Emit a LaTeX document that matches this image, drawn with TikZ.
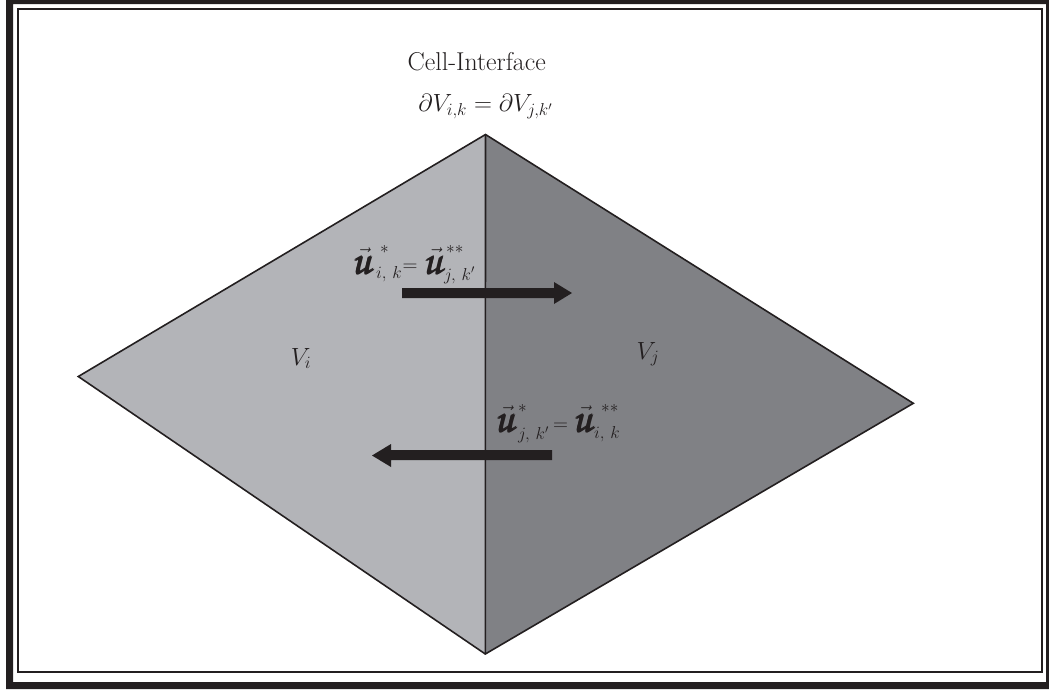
\documentclass[tikz,border=0pt]{standalone}
\usepackage{amsmath}
\DeclareMathAlphabet{\mathpzc}{OT1}{pzc}{m}{it}
\newcommand{\ubig}{\fontsize{43}{43}\selectfont$\vec{\pmb{\mathpzc{u}}}$}
\newcommand{\scr}[1]{\fontsize{17}{17}\selectfont$#1$}
\newcommand{\eqm}{\fontsize{22}{22}\selectfont$=$}
\definecolor{framecol}{HTML}{231F20}
\definecolor{leftgray}{HTML}{B3B4B8}
\definecolor{rightgray}{HTML}{808185}
\tikzset{
  edge/.style={draw=framecol, line width=1.6pt, line join=miter},
  bigarrow/.style={fill=framecol},
  lab/.style={inner sep=0pt, anchor=base, text=framecol},
  piece/.style={inner sep=0pt, anchor=base west, text=framecol},
}
\begin{document}
\begin{tikzpicture}[x=1pt,y=-1pt]
\useasboundingbox (0,0) rectangle (1049,689);
% frames
\fill[framecol, even odd rule] (6,0) rectangle (1049,689) (13,4) rectangle (1046,682);
\draw[framecol, line width=1.8pt] (17.7,9.2) rectangle (1042,672);
% diamond
\coordinate (T) at (485.5,134.5);
\coordinate (L) at (78.3,376.5);
\coordinate (R) at (913.3,403.3);
\coordinate (B) at (485.3,654);
\fill[leftgray] (T) -- (L) -- (B) -- cycle;
\fill[rightgray] (T) -- (R) -- (B) -- cycle;
\draw[edge] (T) -- (L) -- (B) -- (R) -- cycle;
\draw[edge] (T) -- (B);
% arrows
\fill[bigarrow] (402,288) -- (554,288) -- (554,282) -- (572,293) -- (554,304) -- (554,298) -- (402,298) -- cycle;
\fill[bigarrow] (552,450) -- (391,450) -- (391,444) -- (372,455.5) -- (391,467) -- (391,460) -- (552,460) -- cycle;
% texts
\node[lab] (title) at (476.7,70) {\fontsize{25.8}{30}\selectfont Cell-Interface};
\node[lab] (iface) at (485.5,111.5) {\fontsize{23}{28}\selectfont $\partial V_{i,k}=\partial V_{j,k'}$};
\node[lab] (vi) at (301,365) {\fontsize{23}{28}\selectfont $V_i$};
\node[lab] (vj) at (648,359) {\fontsize{23}{28}\selectfont $V_j$};
% top label
\node[piece] (u1) at (352,274) {\ubig};
\node[piece] (s1) at (380,253.5) {\scr{*}};
\node[piece] (b1) at (376,278) {\scr{i,\,k}};
\node[piece] (e1) at (402.5,271.5) {\eqm};
\node[piece] (u2) at (423.5,274) {\ubig};
\node[piece] (s2) at (446,253.5) {\scr{**}};
\node[piece] (b2) at (444,280) {\scr{j,\,k'}};
% bottom label
\node[piece] (u3) at (495,432.5) {\ubig};
\node[piece] (s3) at (518,412.5) {\scr{*}};
\node[piece] (b3) at (518,439.5) {\scr{j,\,k'}};
\node[piece] (e2) at (553,430) {\eqm};
\node[piece] (u4) at (573,432.5) {\ubig};
\node[piece] (s4) at (601,412.5) {\scr{**}};
\node[piece] (b4) at (594,438) {\scr{i,\,k}};
\end{tikzpicture}
\end{document}
